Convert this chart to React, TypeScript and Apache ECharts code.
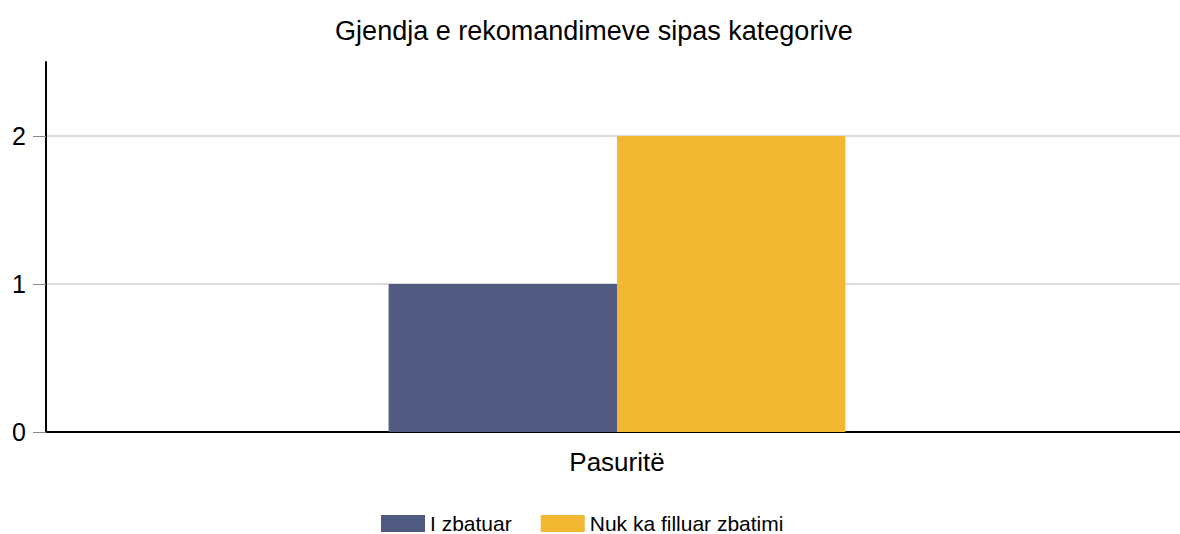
import React, { useEffect, useRef } from "react";
import * as echarts from "echarts";

const categories = ["Pasuritë"];
const seriesNames = ["I zbatuar", "Nuk ka filluar zbatimi"];
const implementedValues = [1];
const notStartedValues = [2];
const yTickValues = [0, 1, 2];
const colors = ["#515a80", "#f3b832"];
const titleText = "Gjendja e rekomandimeve sipas kategorive";

export default function App() {
  const ref = useRef<HTMLDivElement>(null);
  useEffect(() => {
    document.body.style.margin = "0";
    const chart = echarts.init(ref.current!, null, { renderer: "svg" });
    const font = "'Liberation Sans', Arial, sans-serif";
    chart.setOption({
      animation: false,
      color: colors,
      textStyle: { fontFamily: font },
      title: {
        text: titleText,
        left: "center",
        top: 12,
        textStyle: { fontFamily: font, fontSize: 27, fontWeight: "normal", color: "#000" },
      },
      legend: {
        bottom: 0,
        left: 381,
        padding: 0,
        itemWidth: 44,
        itemHeight: 17,
        itemGap: 29,
        itemTextGap: 9,
        itemStyle: { borderWidth: 0 },
        textStyle: { fontFamily: font, fontSize: 21, lineHeight: 21, color: "#000" },
        icon: "rect",
        data: seriesNames,
      },
      grid: { left: 46, right: 0, top: 62, bottom: 102, containLabel: false },
      xAxis: {
        type: "category",
        data: categories,
        axisLine: { lineStyle: { color: "#000", width: 2 } },
        axisTick: { alignWithLabel: true, length: 6, lineStyle: { color: "#888" } },
        axisLabel: { fontFamily: font, fontSize: 26, color: "#000", margin: 17 },
      },
      yAxis: {
        type: "value",
        min: 0,
        max: 2.5,
        interval: 1,
        axisLine: { show: true, lineStyle: { color: "#000", width: 2 } },
        axisTick: { show: true, length: 13, customValues: yTickValues, lineStyle: { color: "#888" } },
        axisLabel: { fontFamily: font, fontSize: 25, color: "#000", margin: 20, customValues: yTickValues },
        splitLine: {
          show: true,
          lineStyle: { color: ["#dcdcdc", "#dcdcdc", "#dcdcdc", "rgba(0,0,0,0)"], width: 2 },
        },
      },
      series: [
        {
          name: seriesNames[0],
          type: "bar",
          data: implementedValues,
          barWidth: "20%",
          barGap: "0%",
        },
        {
          name: seriesNames[1],
          type: "bar",
          data: notStartedValues,
          barWidth: "20%",
          barGap: "0%",
        },
      ],
    });
    return () => chart.dispose();
  }, []);
  return (
    <div style={{ width: 1180, height: 534, overflow: "hidden", position: "relative" }}>
      <div ref={ref} style={{ width: 1188, height: 534 }} />
    </div>
  );
}
